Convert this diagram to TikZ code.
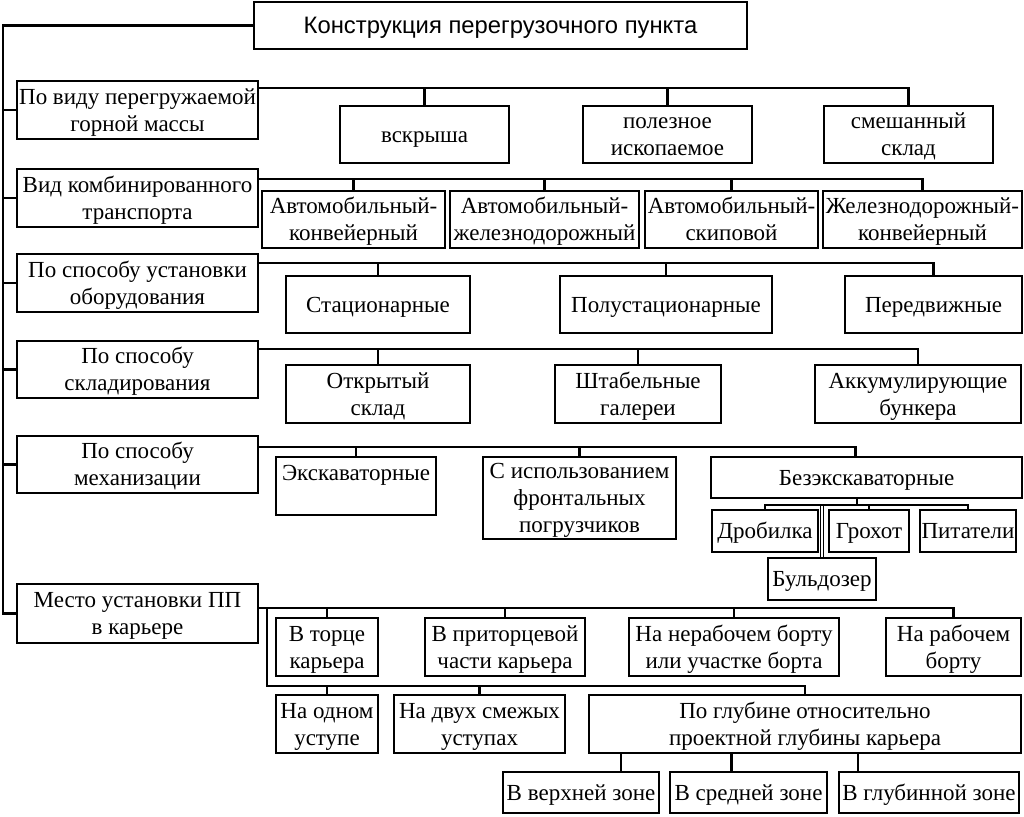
\documentclass[tikz,border=0pt]{standalone}
\usepackage{fontspec}
\setmainfont{Liberation Serif}
\newfontfamily\titlefont{Liberation Sans}
\newcommand{\bt}[1]{\makebox[0pt]{\raisebox{-2.5pt}[\height][\depth]{\begin{tabular}{@{}c@{}}#1\end{tabular}}}}
\begin{document}
\begin{tikzpicture}[x=1pt,y=-1pt,
  bx/.style={draw, line width=2.6pt, inner sep=0pt, outer sep=0pt, font=\fontsize{23}{27}\selectfont},
  ln/.style={line width=2.2pt}]
\useasboundingbox (0,0) rectangle (1024,816);
% title
\node[bx, minimum width=493pt, minimum height=47pt, font=\titlefont\fontsize{23.8}{27}\selectfont] (title) at (500.5,25.5) {\bt{Конструкция перегрузочного пункта}};
% left column
\node[bx, minimum width=241pt, minimum height=58pt] (b1) at (137.5,110) {\bt{По виду перегружаемой\\горной массы}};
\node[bx, minimum width=241pt, minimum height=58pt] (b2) at (137.5,198) {\bt{Вид комбинированного\\транспорта}};
\node[bx, minimum width=241pt, minimum height=58pt] (b3) at (137.5,283) {\bt{По способу установки\\оборудования}};
\node[bx, minimum width=241pt, minimum height=57pt] (b4) at (137.5,369.5) {\bt{По способу\\складирования}};
\node[bx, minimum width=241pt, minimum height=57pt] (b5) at (137.5,464.5) {\bt{По способу\\механизации}};
\node[bx, minimum width=241pt, minimum height=59pt] (b6) at (137.5,613.5) {\bt{Место установки ПП\\в карьере}};
% row 1
\node[bx, minimum width=169pt, minimum height=57pt] (vskr) at (424.5,134.5) {\bt{вскрыша}};
\node[bx, minimum width=169pt, minimum height=57pt] (polez) at (667.5,134.5) {\bt{полезное\\ископаемое}};
\node[bx, minimum width=169pt, minimum height=57pt] (smesh) at (908.5,134.5) {\bt{смешанный\\склад}};
% row 2
\node[bx, minimum width=183pt, minimum height=57pt] (ak) at (353.5,219.5) {\bt{Автомобильный-\\конвейерный}};
\node[bx, minimum width=189pt, minimum height=57pt] (azh) at (544.5,219.5) {\bt{Автомобильный-\\железнодорожный}};
\node[bx, minimum width=173pt, minimum height=57pt] (ask) at (731.5,219.5) {\bt{Автомобильный-\\скиповой}};
\node[bx, minimum width=199pt, minimum height=57pt] (zhk) at (922.5,219.5) {\bt{Железнодорожный-\\конвейерный}};
% row 3
\node[bx, minimum width=184pt, minimum height=57pt] (stac) at (378,304.5) {\bt{Стационарные}};
\node[bx, minimum width=212pt, minimum height=57pt] (polust) at (666,304.5) {\bt{Полустационарные}};
\node[bx, minimum width=177pt, minimum height=57pt] (pered) at (933.5,304.5) {\bt{Передвижные}};
% row 4
\node[bx, minimum width=184pt, minimum height=58pt] (otkr) at (378,394) {\bt{Открытый\\склад}};
\node[bx, minimum width=166pt, minimum height=58pt] (shtab) at (638,394) {\bt{Штабельные\\галереи}};
\node[bx, minimum width=206pt, minimum height=58pt] (akkum) at (918,394) {\bt{Аккумулирующие\\бункера}};
% row 5
\node[bx, minimum width=160pt, minimum height=58pt] (ekskav) at (356,486) {\bt{Экскаваторные\\\mbox{}}};
\node[bx, minimum width=193pt, minimum height=82pt] (front) at (579.5,498) {\bt{С использованием\\фронтальных\\погрузчиков}};
\node[bx, minimum width=311pt, minimum height=41pt] (bez) at (866.5,477.5) {\bt{Безэкскаваторные}};
\node[bx, minimum width=106pt, minimum height=42pt] (drob) at (765,531) {\bt{Дробилка}};
\node[bx, minimum width=80pt, minimum height=42pt] (groh) at (869,531) {\bt{Грохот}};
\node[bx, minimum width=96pt, minimum height=42pt] (pitat) at (968,531) {\bt{Питатели}};
\node[bx, minimum width=108pt, minimum height=42pt] (buld) at (822,579) {\bt{Бульдозер}};
% row 6
\node[bx, minimum width=102pt, minimum height=58pt] (torc) at (327,647) {\bt{В торце\\карьера}};
\node[bx, minimum width=160pt, minimum height=58pt] (pritor) at (505,647) {\bt{В приторцевой\\части карьера}};
\node[bx, minimum width=210pt, minimum height=58pt] (nerab) at (734,647) {\bt{На нерабочем борту\\или участке борта}};
\node[bx, minimum width=135pt, minimum height=58pt] (rab) at (953.5,647) {\bt{На рабочем\\борту}};
\node[bx, minimum width=102pt, minimum height=58pt] (odin) at (327,724) {\bt{На одном\\уступе}};
\node[bx, minimum width=171pt, minimum height=58pt] (dvuh) at (479.5,724) {\bt{На двух смежых\\уступах}};
\node[bx, minimum width=432pt, minimum height=58pt] (glub) at (805,724) {\bt{По глубине относительно\\проектной глубины карьера}};
\node[bx, minimum width=156pt, minimum height=41pt] (verh) at (581,792.5) {\bt{В верхней зоне}};
\node[bx, minimum width=157pt, minimum height=41pt] (sred) at (748.5,792.5) {\bt{В средней зоне}};
\node[bx, minimum width=180pt, minimum height=41pt] (glz) at (929,792.5) {\bt{В глубинной зоне}};
% coordinates
\coordinate (sp) at (3,0);
\coordinate (y1) at (0,88);
\coordinate (y2) at (0,179);
\coordinate (y3) at (0,263);
\coordinate (y4) at (0,349);
\coordinate (y5) at (0,447);
\coordinate (ys) at (0,505);
\coordinate (y6) at (0,608);
\coordinate (y7) at (0,686);
\coordinate (xl) at (267,0);
% spine
\draw[ln] (title.west) -| (sp |- b6.west) -- (b6.west);
\foreach \n in {b1,b2,b3,b4,b5} \draw[ln] (sp |- \n.west) -- (\n.west);
% buses
\draw[ln] (b1.east |- y1) -| (smesh.north);
\foreach \n in {vskr,polez} \draw[ln] (\n.north) -- (\n.north |- y1);
\draw[ln] (b2.east |- y2) -| (zhk.north);
\foreach \n in {ak,azh,ask} \draw[ln] (\n.north) -- (\n.north |- y2);
\draw[ln] (b3.east |- y3) -| (pered.north);
\foreach \n in {stac,polust} \draw[ln] (\n.north) -- (\n.north |- y3);
\draw[ln] (b4.east |- y4) -| (akkum.north);
\foreach \n in {otkr,shtab} \draw[ln] (\n.north) -- (\n.north |- y4);
\draw[ln] (b5.east |- y5) -| ([xshift=-11pt]bez.north);
\foreach \n in {ekskav,front} \draw[ln] (\n.north) -- (\n.north |- y5);
% bezekskav sub
\draw[ln] ([xshift=-9.5pt]bez.south) -- ([xshift=-9.5pt]bez.south |- ys);
\draw[ln] (drob.north) -- (drob.north |- ys) -- (pitat.north |- ys) -- (pitat.north);
\draw[ln] (groh.north) -- (groh.north |- ys);
\draw[line width=1.4pt] ([xshift=-1.7pt]buld.north) -- ([xshift=-1.7pt]buld.north |- ys);
\draw[line width=1.4pt] ([xshift=1.7pt]buld.north) -- ([xshift=1.7pt]buld.north |- ys);
% row 6
\draw[ln] (b6.east |- y6) -| (rab.north);
\foreach \n in {torc,pritor,nerab} \draw[ln] (\n.north) -- (\n.north |- y6);
\draw[ln] (xl |- y6) |- (glub.north |- y7) -- (glub.north);
\foreach \n in {odin,dvuh} \draw[ln] (\n.north) -- (\n.north |- y7);
\foreach \n/\s in {verh/40,sred/-17,glz/-71} \draw[ln] ([xshift=\s pt]\n.north) -- ([xshift=\s pt]\n.north |- glub.south);
\end{tikzpicture}
\end{document}
